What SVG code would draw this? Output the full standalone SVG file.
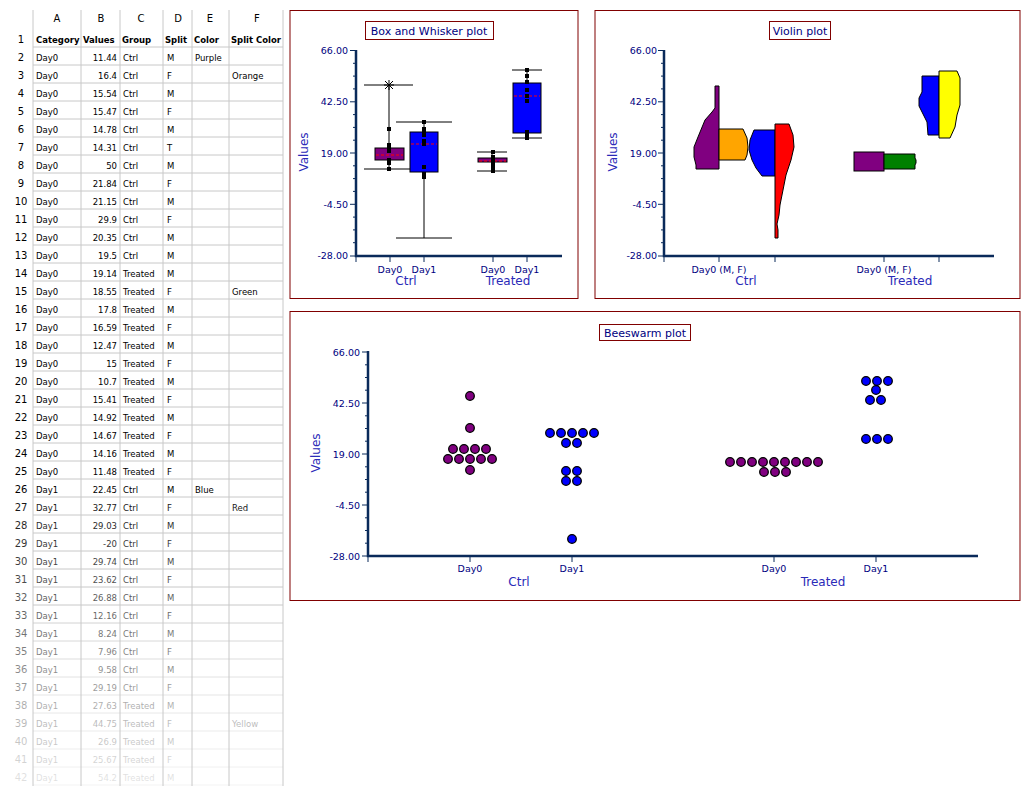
<svg xmlns="http://www.w3.org/2000/svg" width="1033" height="797" viewBox="0 0 1033 797">
<style>
.c{font-family:"DejaVu Sans",Verdana,sans-serif;font-size:8.5px;fill:#000}
.h{font-weight:bold}
.v{text-anchor:end}
.n{text-anchor:middle;font-size:10px}
.grid line{stroke:#c8c8c8;stroke-width:1}
.panel{fill:#fff;stroke:#800000;stroke-width:1}
.ttl{fill:#fff;stroke:#800000;stroke-width:1}
.tt{font-family:"DejaVu Sans",Verdana,sans-serif;font-size:11px;fill:#000080}
.tl{font-family:"DejaVu Sans",Verdana,sans-serif;font-size:9.5px;fill:#000080}
.gl{font-family:"DejaVu Sans",Verdana,sans-serif;font-size:12px;fill:#2a2ab8;text-anchor:middle}
.ax{stroke:#0a2a5a;stroke-width:2.5;fill:none}
.tk{stroke:#0a2a5a;stroke-width:1;fill:none}
.blk{stroke:#000;stroke-width:1}
.med{stroke:#ff0000;stroke-width:1.2;stroke-dasharray:3,2}
.pt{fill:#000}
.vio{stroke:#000;stroke-width:1}
.dp{fill:#800080;stroke:#000;stroke-width:1.3}
.db{fill:#0000ff;stroke:#000;stroke-width:1.3}
</style>
<rect width="1033" height="797" fill="#fff"/>
<g id="sheet">
<g class="grid">
<line x1="33" y1="10" x2="33" y2="786"/><line x1="81" y1="10" x2="81" y2="786"/><line x1="120" y1="10" x2="120" y2="786"/><line x1="163" y1="10" x2="163" y2="786"/><line x1="192" y1="10" x2="192" y2="786"/><line x1="229" y1="10" x2="229" y2="786"/><line x1="283" y1="10" x2="283" y2="786"/>
</g>
<g class="grid">
<line x1="33" y1="47" x2="283" y2="47"/><line x1="33" y1="65" x2="283" y2="65"/><line x1="33" y1="83" x2="283" y2="83"/><line x1="33" y1="101" x2="283" y2="101"/><line x1="33" y1="119" x2="283" y2="119"/><line x1="33" y1="137" x2="283" y2="137"/><line x1="33" y1="155" x2="283" y2="155"/><line x1="33" y1="173" x2="283" y2="173"/><line x1="33" y1="191" x2="283" y2="191"/><line x1="33" y1="209" x2="283" y2="209"/><line x1="33" y1="227" x2="283" y2="227"/><line x1="33" y1="245" x2="283" y2="245"/><line x1="33" y1="263" x2="283" y2="263"/><line x1="33" y1="281" x2="283" y2="281"/><line x1="33" y1="299" x2="283" y2="299"/><line x1="33" y1="317" x2="283" y2="317"/><line x1="33" y1="335" x2="283" y2="335"/><line x1="33" y1="353" x2="283" y2="353"/><line x1="33" y1="371" x2="283" y2="371"/><line x1="33" y1="389" x2="283" y2="389"/><line x1="33" y1="407" x2="283" y2="407"/><line x1="33" y1="425" x2="283" y2="425"/><line x1="33" y1="443" x2="283" y2="443"/><line x1="33" y1="461" x2="283" y2="461"/><line x1="33" y1="479" x2="283" y2="479"/><line x1="33" y1="497" x2="283" y2="497"/><line x1="33" y1="515" x2="283" y2="515"/><line x1="33" y1="533" x2="283" y2="533"/><line x1="33" y1="551" x2="283" y2="551"/><line x1="33" y1="569" x2="283" y2="569"/><line x1="33" y1="587" x2="283" y2="587"/><line x1="33" y1="605" x2="283" y2="605"/><line x1="33" y1="623" x2="283" y2="623" opacity="0.8"/><line x1="33" y1="641" x2="283" y2="641" opacity="0.7"/><line x1="33" y1="659" x2="283" y2="659" opacity="0.6"/><line x1="33" y1="677" x2="283" y2="677" opacity="0.5"/><line x1="33" y1="695" x2="283" y2="695" opacity="0.45"/><line x1="33" y1="713" x2="283" y2="713" opacity="0.4"/><line x1="33" y1="731" x2="283" y2="731" opacity="0.35"/><line x1="33" y1="749" x2="283" y2="749" opacity="0.3"/><line x1="33" y1="767" x2="283" y2="767" opacity="0.25"/><line x1="33" y1="785" x2="283" y2="785" opacity="0.2"/>
</g>
<g class="c" transform="translate(0,22)"><text x="57" class="n">A</text><text x="101" class="n">B</text><text x="141" class="n">C</text><text x="178" class="n">D</text><text x="210" class="n">E</text><text x="257" class="n">F</text></g>
<g class="c" transform="translate(0,43)"><text x="21" class="n">1</text><text x="36" class="h">Category</text><text x="83" class="h">Values</text><text x="122" class="h">Group</text><text x="165" class="h">Split</text><text x="194" class="h">Color</text><text x="231" class="h" textLength="50">Split Color</text></g>
<g class="c" transform="translate(0,61)"><text x="21" class="n">2</text><text x="36">Day0</text><text x="117" class="v">11.44</text><text x="123">Ctrl</text><text x="167">M</text><text x="195">Purple</text></g>
<g class="c" transform="translate(0,79)"><text x="21" class="n">3</text><text x="36">Day0</text><text x="117" class="v">16.4</text><text x="123">Ctrl</text><text x="167">F</text><text x="232">Orange</text></g>
<g class="c" transform="translate(0,97)"><text x="21" class="n">4</text><text x="36">Day0</text><text x="117" class="v">15.54</text><text x="123">Ctrl</text><text x="167">M</text></g>
<g class="c" transform="translate(0,115)"><text x="21" class="n">5</text><text x="36">Day0</text><text x="117" class="v">15.47</text><text x="123">Ctrl</text><text x="167">F</text></g>
<g class="c" transform="translate(0,133)"><text x="21" class="n">6</text><text x="36">Day0</text><text x="117" class="v">14.78</text><text x="123">Ctrl</text><text x="167">M</text></g>
<g class="c" transform="translate(0,151)"><text x="21" class="n">7</text><text x="36">Day0</text><text x="117" class="v">14.31</text><text x="123">Ctrl</text><text x="167">T</text></g>
<g class="c" transform="translate(0,169)"><text x="21" class="n">8</text><text x="36">Day0</text><text x="117" class="v">50</text><text x="123">Ctrl</text><text x="167">M</text></g>
<g class="c" transform="translate(0,187)"><text x="21" class="n">9</text><text x="36">Day0</text><text x="117" class="v">21.84</text><text x="123">Ctrl</text><text x="167">F</text></g>
<g class="c" transform="translate(0,205)"><text x="21" class="n">10</text><text x="36">Day0</text><text x="117" class="v">21.15</text><text x="123">Ctrl</text><text x="167">M</text></g>
<g class="c" transform="translate(0,223)"><text x="21" class="n">11</text><text x="36">Day0</text><text x="117" class="v">29.9</text><text x="123">Ctrl</text><text x="167">F</text></g>
<g class="c" transform="translate(0,241)"><text x="21" class="n">12</text><text x="36">Day0</text><text x="117" class="v">20.35</text><text x="123">Ctrl</text><text x="167">M</text></g>
<g class="c" transform="translate(0,259)"><text x="21" class="n">13</text><text x="36">Day0</text><text x="117" class="v">19.5</text><text x="123">Ctrl</text><text x="167">M</text></g>
<g class="c" transform="translate(0,277)"><text x="21" class="n">14</text><text x="36">Day0</text><text x="117" class="v">19.14</text><text x="123">Treated</text><text x="167">M</text></g>
<g class="c" transform="translate(0,295)"><text x="21" class="n">15</text><text x="36">Day0</text><text x="117" class="v">18.55</text><text x="123">Treated</text><text x="167">F</text><text x="232">Green</text></g>
<g class="c" transform="translate(0,313)"><text x="21" class="n">16</text><text x="36">Day0</text><text x="117" class="v">17.8</text><text x="123">Treated</text><text x="167">M</text></g>
<g class="c" transform="translate(0,331)"><text x="21" class="n">17</text><text x="36">Day0</text><text x="117" class="v">16.59</text><text x="123">Treated</text><text x="167">F</text></g>
<g class="c" transform="translate(0,349)"><text x="21" class="n">18</text><text x="36">Day0</text><text x="117" class="v">12.47</text><text x="123">Treated</text><text x="167">M</text></g>
<g class="c" transform="translate(0,367)"><text x="21" class="n">19</text><text x="36">Day0</text><text x="117" class="v">15</text><text x="123">Treated</text><text x="167">F</text></g>
<g class="c" transform="translate(0,385)"><text x="21" class="n">20</text><text x="36">Day0</text><text x="117" class="v">10.7</text><text x="123">Treated</text><text x="167">M</text></g>
<g class="c" transform="translate(0,403)"><text x="21" class="n">21</text><text x="36">Day0</text><text x="117" class="v">15.41</text><text x="123">Treated</text><text x="167">F</text></g>
<g class="c" transform="translate(0,421)"><text x="21" class="n">22</text><text x="36">Day0</text><text x="117" class="v">14.92</text><text x="123">Treated</text><text x="167">M</text></g>
<g class="c" transform="translate(0,439)"><text x="21" class="n">23</text><text x="36">Day0</text><text x="117" class="v">14.67</text><text x="123">Treated</text><text x="167">F</text></g>
<g class="c" transform="translate(0,457)"><text x="21" class="n">24</text><text x="36">Day0</text><text x="117" class="v">14.16</text><text x="123">Treated</text><text x="167">M</text></g>
<g class="c" transform="translate(0,475)"><text x="21" class="n">25</text><text x="36">Day0</text><text x="117" class="v">11.48</text><text x="123">Treated</text><text x="167">F</text></g>
<g class="c" transform="translate(0,493)"><text x="21" class="n">26</text><text x="36">Day1</text><text x="117" class="v">22.45</text><text x="123">Ctrl</text><text x="167">M</text><text x="195">Blue</text></g>
<g class="c" transform="translate(0,511)" opacity="0.9"><text x="21" class="n">27</text><text x="36">Day1</text><text x="117" class="v">32.77</text><text x="123">Ctrl</text><text x="167">F</text><text x="232">Red</text></g>
<g class="c" transform="translate(0,529)" opacity="0.85"><text x="21" class="n">28</text><text x="36">Day1</text><text x="117" class="v">29.03</text><text x="123">Ctrl</text><text x="167">M</text></g>
<g class="c" transform="translate(0,547)" opacity="0.8"><text x="21" class="n">29</text><text x="36">Day1</text><text x="117" class="v">-20</text><text x="123">Ctrl</text><text x="167">F</text></g>
<g class="c" transform="translate(0,565)" opacity="0.75"><text x="21" class="n">30</text><text x="36">Day1</text><text x="117" class="v">29.74</text><text x="123">Ctrl</text><text x="167">M</text></g>
<g class="c" transform="translate(0,583)" opacity="0.7"><text x="21" class="n">31</text><text x="36">Day1</text><text x="117" class="v">23.62</text><text x="123">Ctrl</text><text x="167">F</text></g>
<g class="c" transform="translate(0,601)" opacity="0.65"><text x="21" class="n">32</text><text x="36">Day1</text><text x="117" class="v">26.88</text><text x="123">Ctrl</text><text x="167">M</text></g>
<g class="c" transform="translate(0,619)" opacity="0.6"><text x="21" class="n">33</text><text x="36">Day1</text><text x="117" class="v">12.16</text><text x="123">Ctrl</text><text x="167">F</text></g>
<g class="c" transform="translate(0,637)" opacity="0.55"><text x="21" class="n">34</text><text x="36">Day1</text><text x="117" class="v">8.24</text><text x="123">Ctrl</text><text x="167">M</text></g>
<g class="c" transform="translate(0,655)" opacity="0.5"><text x="21" class="n">35</text><text x="36">Day1</text><text x="117" class="v">7.96</text><text x="123">Ctrl</text><text x="167">F</text></g>
<g class="c" transform="translate(0,673)" opacity="0.45"><text x="21" class="n">36</text><text x="36">Day1</text><text x="117" class="v">9.58</text><text x="123">Ctrl</text><text x="167">M</text></g>
<g class="c" transform="translate(0,691)" opacity="0.4"><text x="21" class="n">37</text><text x="36">Day1</text><text x="117" class="v">29.19</text><text x="123">Ctrl</text><text x="167">F</text></g>
<g class="c" transform="translate(0,709)" opacity="0.32"><text x="21" class="n">38</text><text x="36">Day1</text><text x="117" class="v">27.63</text><text x="123">Treated</text><text x="167">M</text></g>
<g class="c" transform="translate(0,727)" opacity="0.27"><text x="21" class="n">39</text><text x="36">Day1</text><text x="117" class="v">44.75</text><text x="123">Treated</text><text x="167">F</text><text x="232">Yellow</text></g>
<g class="c" transform="translate(0,745)" opacity="0.22"><text x="21" class="n">40</text><text x="36">Day1</text><text x="117" class="v">26.9</text><text x="123">Treated</text><text x="167">M</text></g>
<g class="c" transform="translate(0,763)" opacity="0.17"><text x="21" class="n">41</text><text x="36">Day1</text><text x="117" class="v">25.67</text><text x="123">Treated</text><text x="167">F</text></g>
<g class="c" transform="translate(0,781)" opacity="0.12"><text x="21" class="n">42</text><text x="36">Day1</text><text x="117" class="v">54.2</text><text x="123">Treated</text><text x="167">M</text></g>
</g>

<g id="boxplot">
<rect class="panel" x="290" y="10.5" width="288" height="288"/>
<rect class="ttl" x="365.5" y="21.5" width="128" height="18"/>
<text class="tt" x="429" y="35" text-anchor="middle">Box and Whisker plot</text>
<g class="tl" text-anchor="end"><text x="348" y="54">66.00</text><text x="348" y="105">42.50</text><text x="348" y="157">19.00</text><text x="348" y="208">-4.50</text><text x="348" y="259">-28.00</text></g>
<text class="gl" transform="translate(308,152) rotate(-90)" font-size="11">Values</text>
<path class="tk" d="M350,50.5H356M350,101.8H356M350,153H356M350,204.3H356M350,256H356M353,63.3H356M353,76.1H356M353,88.9H356M353,114.6H356M353,127.4H356M353,140.2H356M353,165.8H356M353,178.6H356M353,191.4H356M353,217.1H356M353,229.9H356M353,242.7H356M356,256V262M390,256V262M424,256V262M493,256V262M527,256V262"/>
<path class="ax" d="M356,50V256H562"/>
<g class="tl" text-anchor="middle"><text x="390" y="273">Day0</text><text x="424" y="273">Day1</text><text x="493" y="273">Day0</text><text x="527" y="273">Day1</text></g>
<text class="gl" x="406" y="285">Ctrl</text><text class="gl" x="508" y="285">Treated</text>
<g class="blk">
<line x1="389" y1="85" x2="389" y2="169"/><line x1="364" y1="85" x2="413" y2="85"/><line x1="364" y1="169" x2="413" y2="169"/>
<rect x="375" y="148" width="29" height="12" fill="#800080"/>
<line x1="424" y1="122" x2="424" y2="238"/><line x1="396" y1="122" x2="452" y2="122"/><line x1="396" y1="238" x2="452" y2="238"/>
<rect x="410" y="132" width="28" height="40" fill="#0000ff"/>
<line x1="492" y1="152" x2="492" y2="171"/><line x1="477" y1="152" x2="507" y2="152"/><line x1="477" y1="171" x2="507" y2="171"/>
<rect x="478" y="158" width="29" height="4" fill="#800080"/>
<line x1="527" y1="70" x2="527" y2="138"/><line x1="512" y1="70" x2="542" y2="70"/><line x1="512" y1="138" x2="542" y2="138"/>
<rect x="513" y="83" width="28" height="50" fill="#0000ff"/>
<path d="M385,81L393,89M393,81L385,89M384,85H394M389,80V90"/>
</g>
<g class="med"><line x1="376" y1="155" x2="403" y2="155"/><line x1="411" y1="144" x2="437" y2="144"/><line x1="479" y1="161" x2="506" y2="161"/><line x1="514" y1="96" x2="540" y2="96"/></g>
<g class="pt">
<rect x="387" y="127" width="4" height="4"/><rect x="387" y="143" width="4" height="4"/><rect x="387" y="146" width="4" height="4"/><rect x="387" y="149" width="4" height="4"/><rect x="387" y="158" width="4" height="4"/><rect x="387" y="161" width="4" height="4"/><rect x="387" y="167" width="4" height="4"/>
<rect x="422" y="120" width="4" height="4"/><rect x="422" y="127" width="4" height="4"/><rect x="422" y="130" width="4" height="4"/><rect x="422" y="133" width="4" height="4"/><rect x="422" y="139" width="4" height="4"/><rect x="422" y="142" width="4" height="4"/><rect x="422" y="165" width="4" height="4"/><rect x="422" y="172" width="4" height="4"/><rect x="422" y="175" width="4" height="4"/>
<rect x="491" y="150" width="4" height="4"/><rect x="491" y="155" width="4" height="4"/><rect x="491" y="159" width="4" height="4"/><rect x="491" y="163" width="4" height="4"/><rect x="491" y="166" width="4" height="4"/><rect x="491" y="169" width="4" height="4"/>
<rect x="525" y="68" width="4" height="4"/><rect x="525" y="74" width="4" height="4"/><rect x="525" y="80" width="4" height="4"/><rect x="525" y="88" width="4" height="4"/><rect x="525" y="94" width="4" height="4"/><rect x="525" y="99" width="4" height="4"/><rect x="525" y="130" width="4" height="4"/><rect x="525" y="133" width="4" height="4"/><rect x="525" y="136" width="4" height="4"/>
</g>
</g>

<g id="violin">
<rect class="panel" x="595" y="10.5" width="425" height="288"/>
<rect class="ttl" x="769.5" y="21.5" width="61" height="18"/>
<text class="tt" x="800" y="35" text-anchor="middle">Violin plot</text>
<g class="tl" text-anchor="end"><text x="657" y="54">66.00</text><text x="657" y="105">42.50</text><text x="657" y="157">19.00</text><text x="657" y="208">-4.50</text><text x="657" y="259">-28.00</text></g>
<text class="gl" transform="translate(617,152) rotate(-90)" font-size="11">Values</text>
<path class="tk" d="M658,50.5H664M658,101.8H664M658,153H664M658,204.3H664M658,256H664M661,63.3H664M661,76.1H664M661,88.9H664M661,114.6H664M661,127.4H664M661,140.2H664M661,165.8H664M661,178.6H664M661,191.4H664M661,217.1H664M661,229.9H664M661,242.7H664M664,256V262M719,256V262M775,256V262M884,256V262M939,256V262"/>
<path class="ax" d="M664,50V256H994"/>
<g class="tl" text-anchor="middle"><text x="719" y="273">Day0 (M, F)</text><text x="884" y="273">Day0 (M, F)</text></g>
<text class="gl" x="746" y="285">Ctrl</text><text class="gl" x="910" y="285">Treated</text>
<g class="vio">
<path fill="#800080" d="M719,86L715,86L715,108L712,112L705,120L698,137L694,147L694,157L696,165L696,169L719,169Z"/>
<path fill="#ffa500" d="M719,129L743,129L747,138L748,147L747,155L745,160L719,160Z"/>
<path fill="#0000ff" d="M775,130L754,130L750,140L749,150L752,160L756,168L762,176L775,176Z"/>
<path fill="#ff0000" d="M775,124L789,124L793,135L794,147L791,160L786,175L783,190L780,205L779,215L777,224L778,230L778,238L775,238Z"/>
<rect x="854" y="152" width="30" height="19" fill="#800080"/>
<path fill="#008000" d="M884,154L915,154L915,158L916,160L916,163L915,165L915,169L884,169Z"/>
<path fill="#0000ff" d="M939,76L922,76L922,92L919,98L919,106L922,112L927,122L928,135L939,135Z"/>
<path fill="#ffff00" d="M939,71L957,71L960,78L960,105L957,115L955,127L950,138L939,138Z"/>
</g>
</g>

<g id="beeswarm">
<rect class="panel" x="290" y="311.5" width="730" height="289"/>
<rect class="ttl" x="599.5" y="324.5" width="91" height="16"/>
<text class="tt" x="645" y="337" text-anchor="middle">Beeswarm plot</text>
<g class="tl" text-anchor="end"><text x="360" y="356">66.00</text><text x="360" y="407">42.50</text><text x="360" y="458">19.00</text><text x="360" y="509">-4.50</text><text x="360" y="560">-28.00</text></g>
<text class="gl" transform="translate(320,453) rotate(-90)" font-size="11">Values</text>
<path class="tk" d="M362,352H368M362,403H368M362,454H368M362,505H368M362,556H368M365,364.8H368M365,377.5H368M365,390.2H368M365,415.8H368M365,428.5H368M365,441.2H368M365,466.8H368M365,479.5H368M365,492.2H368M365,517.8H368M365,530.5H368M365,543.2H368M368,556V562M470,556V562M572,556V562M774,556V562M876,556V562"/>
<path class="ax" d="M368,351V556H978"/>
<g class="tl" text-anchor="middle"><text x="470" y="572">Day0</text><text x="572" y="572">Day1</text><text x="774" y="572">Day0</text><text x="876" y="572">Day1</text></g>
<text class="gl" x="519" y="586">Ctrl</text><text class="gl" x="823" y="586">Treated</text>
<g class="dp">
<circle cx="470" cy="396" r="4.3"/><circle cx="470" cy="428" r="4.3"/>
<circle cx="453" cy="449" r="4.3"/><circle cx="464" cy="449" r="4.3"/><circle cx="475" cy="449" r="4.3"/><circle cx="486" cy="449" r="4.3"/>
<circle cx="448" cy="459" r="4.3"/><circle cx="459" cy="459" r="4.3"/><circle cx="470" cy="459" r="4.3"/><circle cx="481" cy="459" r="4.3"/><circle cx="492" cy="459" r="4.3"/>
<circle cx="470" cy="470" r="4.3"/>
<circle cx="730" cy="462" r="4.3"/><circle cx="741" cy="462" r="4.3"/><circle cx="752" cy="462" r="4.3"/><circle cx="763" cy="462" r="4.3"/><circle cx="774" cy="462" r="4.3"/><circle cx="785" cy="462" r="4.3"/><circle cx="796" cy="462" r="4.3"/><circle cx="807" cy="462" r="4.3"/><circle cx="818" cy="462" r="4.3"/>
<circle cx="764" cy="472" r="4.3"/><circle cx="775" cy="472" r="4.3"/><circle cx="786" cy="472" r="4.3"/>
</g>
<g class="db">
<circle cx="550" cy="433" r="4.3"/><circle cx="561" cy="433" r="4.3"/><circle cx="572" cy="433" r="4.3"/><circle cx="583" cy="433" r="4.3"/><circle cx="594" cy="433" r="4.3"/>
<circle cx="566" cy="443" r="4.3"/><circle cx="577" cy="443" r="4.3"/>
<circle cx="566" cy="471" r="4.3"/><circle cx="577" cy="471" r="4.3"/>
<circle cx="566" cy="481" r="4.3"/><circle cx="577" cy="481" r="4.3"/>
<circle cx="572" cy="539" r="4.3"/>
<circle cx="866" cy="381" r="4.3"/><circle cx="877" cy="381" r="4.3"/><circle cx="888" cy="381" r="4.3"/>
<circle cx="876" cy="390" r="4.3"/>
<circle cx="870" cy="400" r="4.3"/><circle cx="881" cy="400" r="4.3"/>
<circle cx="866" cy="439" r="4.3"/><circle cx="877" cy="439" r="4.3"/><circle cx="888" cy="439" r="4.3"/>
</g>
</g>
</svg>
